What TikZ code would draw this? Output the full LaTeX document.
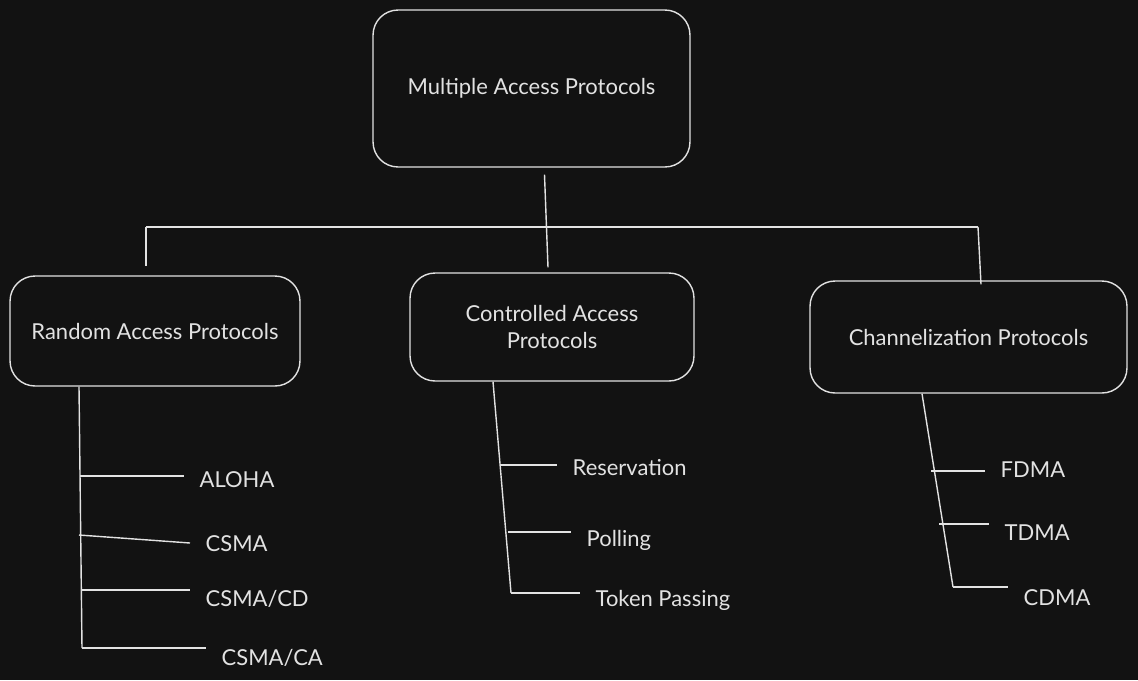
\documentclass[tikz,border=0pt]{standalone}
\usepackage{fontspec}
\setmainfont{Lato}
\usetikzlibrary{calc}
\definecolor{bg1}{HTML}{121212}
\definecolor{ink1}{HTML}{E2E2E2}

\tikzset{
  box/.style={draw=ink1, rounded corners=0.5cm, align=center, text=ink1,
    font=\fontsize{12.5}{15}\selectfont},
  leaf/.style={anchor=west, text=ink1, inner xsep=0.3cm, inner ysep=0pt,
    text height=1.6ex, text depth=0.4ex, font=\fontsize{12.5}{15}\selectfont},
}

\begin{document}
\begin{tikzpicture}[x=0.02cm, y=-0.02cm, line width=0.8pt, color=ink1]
  \fill[bg1] (0,0) rectangle (1138,680);
  \useasboundingbox (0,0) rectangle (1138,680);

  \node[box, minimum width=6.34cm, minimum height=3.14cm] (mac) at (531.5,88.5) {Multiple Access Protocols};
  \node[box, minimum width=5.8cm, minimum height=2.2cm] (rand) at (155,331) {Random Access Protocols};
  \node[box, minimum width=5.68cm, minimum height=2.16cm] (ctrl) at (552,327) {Controlled Access\\Protocols};
  \node[box, minimum width=6.34cm, minimum height=2.24cm] (chan) at (968.5,337) {Channelization Protocols};

  % leaves
  \node[leaf] (aloha) at (184,482) {ALOHA};
  \node[leaf] (csma) at (190,546) {CSMA};
  \node[leaf] (csmacd) at (190,601) {CSMA/CD};
  \node[leaf] (csmaca) at (206,660) {CSMA/CA};

  \node[leaf] (resv) at (557,470) {Reservation};
  \node[leaf] (poll) at (571,541) {Polling};
  \node[leaf] (token) at (580,601) {Token Passing};

  \node[leaf] (fdma) at (985,472) {FDMA};
  \node[leaf] (tdma) at (989,535) {TDMA};
  \node[leaf] (cdma) at (1008,600) {CDMA};

  % bar under the top box
  \coordinate (barL) at (146,227);
  \coordinate (barR) at (978,227);
  \draw ($(mac.south)+(13,7)$) -- ($(ctrl.north)+(-4,-5)$);
  \draw (barL) -- (barR);
  \draw (barL) -- ($(rand.north)+(-9,-9)$);
  \draw (barR) -- ($(chan.north)+(12.5,4)$);

  % trunks
  \coordinate (r1) at (80,476);
  \coordinate (r2) at (79,535);
  \coordinate (r3) at (82,590);
  \coordinate (r4) at (82,648);
  \coordinate (c1) at (500,465);
  \coordinate (c2) at (508,532);
  \coordinate (c3) at (511,593);
  \coordinate (h1) at (931,471);
  \coordinate (h2) at (939,524);
  \coordinate (h3) at (953,587);

  \draw ($(rand.south)+(-76,0)$) -- (r4);
  \draw ($(ctrl.south)+(-59,0)$) -- (c3);
  \draw ($(chan.south)+(-46.5,0)$) -- (h3);

  \foreach \from/\to in {r1/aloha, r3/csmacd, r4/csmaca, c1/resv, c2/poll, c3/token, h1/fdma, h2/tdma, h3/cdma}
    \draw (\from) -- (\to.west |- \from);
  \draw (r2) -- ($(csma.west)+(0,-3)$);
\end{tikzpicture}
\end{document}
